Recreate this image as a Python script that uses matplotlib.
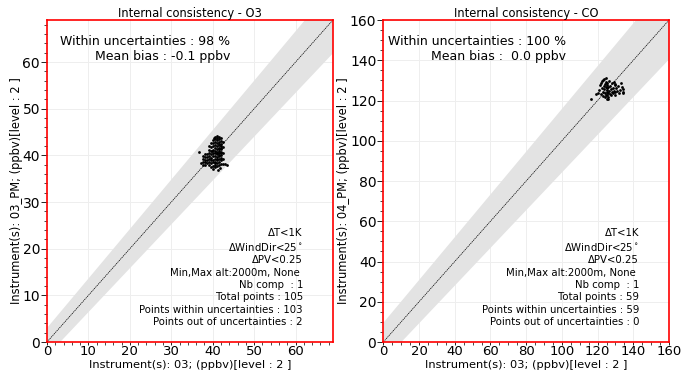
import numpy as np
import matplotlib.pyplot as plt
from matplotlib.ticker import MultipleLocator

# -----------------------------
# Data
# -----------------------------
o3_x = [36.8, 37.2,
        37.6, 37.6, 37.6, 37.6,
        38.1, 38.1, 38.1, 38.1, 38.1,
        38.6, 38.6, 38.6, 38.6,
        39.0, 39.0, 39.0, 39.0, 39.0, 39.0, 39.0,
        39.5, 39.5, 39.5, 39.5, 39.5, 39.5, 39.5, 39.5,
        40.0, 40.0, 40.0, 40.0, 40.0, 40.0, 40.0, 40.0, 40.0, 40.0,
        40.5, 40.5, 40.5, 40.5, 40.5, 40.5, 40.5, 40.5, 40.5, 40.5, 40.5, 40.5, 40.5,
        41.0, 41.0, 41.0, 41.0, 41.0, 41.0, 41.0, 41.0, 41.0, 41.0, 41.0, 41.0, 41.0, 41.0,
        41.5, 41.5, 41.5, 41.5, 41.5, 41.5, 41.5, 41.5, 41.5, 41.5, 41.5, 41.5, 41.5, 41.5,
        42.0, 42.0, 42.0, 42.0, 42.0, 42.0, 42.0, 42.0, 42.0, 42.0, 42.0, 42.0,
        42.5, 42.5, 42.5, 42.5, 42.5,
        43.0, 43.5,
        40.3, 41.2, 41.8, 39.8]
o3_y = [40.7, 38.3,
        38.0, 38.6, 39.2, 39.8,
        37.9, 38.5, 39.0, 39.6, 40.2,
        38.3, 39.0, 39.7, 40.3,
        38.0, 38.6, 39.2, 39.8, 40.4, 41.2, 42.0,
        37.5, 38.3, 38.9, 39.5, 40.2, 41.0, 41.8, 42.6,
        37.1, 37.8, 38.5, 39.1, 39.8, 40.5, 41.2, 41.9, 42.6, 43.3,
        37.4, 38.0, 38.6, 39.2, 39.8, 40.4, 41.0, 41.6, 42.2, 42.8, 43.4, 44.0, 38.3,
        37.8, 38.4, 39.0, 39.6, 40.2, 40.8, 41.4, 42.0, 42.6, 43.2, 43.8, 44.2, 39.3, 40.5,
        38.0, 38.6, 39.2, 39.8, 40.4, 41.0, 41.6, 42.2, 42.8, 43.4, 44.0, 40.1, 41.3, 42.5,
        38.2, 38.9, 39.5, 40.1, 40.7, 41.3, 41.9, 42.5, 43.1, 43.7, 40.4, 41.6,
        38.1, 39.3, 40.5, 41.7, 42.9,
        38.1, 38.0,
        43.7, 36.9, 37.2, 41.0]

co_x = [116.5, 119.0, 120.5, 121.0, 121.5, 122.0, 122.0, 122.5, 122.5, 123.0,
        123.0, 123.5, 123.5, 123.5, 124.0, 124.0, 124.0, 124.5, 124.5, 124.5,
        125.0, 125.0, 125.0, 125.0, 125.5, 125.5, 125.5, 126.0, 126.0, 126.0,
        126.5, 126.5, 127.0, 127.0, 127.5, 127.5, 128.0, 128.0, 128.5, 128.5,
        129.0, 129.0, 129.5, 129.5, 130.0, 130.0, 130.5, 131.0, 131.5, 132.0,
        132.5, 133.0, 133.5, 134.0, 134.0, 134.5, 123.0, 124.5, 126.0]
co_y = [121.0, 123.0, 123.5, 125.0, 127.5, 123.0, 128.5, 126.0, 129.5, 124.0,
        122.0, 127.0, 130.5, 125.5, 121.5, 123.5, 128.0, 126.5, 122.5, 129.0,
        124.0, 121.0, 126.0, 127.5, 122.5, 125.0, 128.5, 123.5, 126.5, 121.5,
        124.5, 129.5, 123.0, 127.0, 125.5, 122.5, 128.5, 124.0, 126.0, 123.5,
        129.0, 124.5, 127.5, 122.5, 124.0, 128.0, 126.0, 124.5, 127.0, 123.5,
        125.0, 128.5, 126.5, 124.0, 125.5, 123.5, 130.0, 131.0, 121.0]

o3_stats = ["\u0394T<1K", "\u0394WindDir<25$^\\circ$", "\u0394PV<0.25",
            "Min,Max alt:2000m, None ", "Nb comp  : 1", "Total points : 105",
            "Points within uncertainties : 103", "Points out of uncertainties : 2"]
co_stats = ["\u0394T<1K", "\u0394WindDir<25$^\\circ$", "\u0394PV<0.25",
            "Min,Max alt:2000m, None ", "Nb comp  : 1", "Total points : 59",
            "Points within uncertainties : 59", "Points out of uncertainties : 0"]

panels = [
    {"title": "Internal consistency - O3", "x": o3_x, "y": o3_y,
     "xlabel": "Instrument(s): 03; (ppbv)[level : 2 ]",
     "ylabel": "Instrument(s): 03_PM; (ppbv)[level : 2 ]",
     "head": "Within uncertainties : 98 %\nMean bias : -0.1 ppbv",
     "stats": o3_stats, "lim": 69, "major": 10, "minor": 2,
     "unc_abs": 3.0, "unc_rel": 0.06, "ylab_x": -0.085,
     "rect": [0.0676, 0.0806, 0.4114, 0.8656]},
    {"title": "Internal consistency - CO", "x": co_x, "y": co_y,
     "xlabel": "Instrument(s): 03; (ppbv)[level : 2 ]",
     "ylabel": "Instrument(s): 04_PM; (ppbv)[level : 2 ]",
     "head": "Within uncertainties : 100 %\nMean bias :  0.0 ppbv",
     "stats": co_stats, "lim": 160, "major": 20, "minor": 5,
     "unc_abs": 9.5, "unc_rel": 0.063, "ylab_x": -0.118,
     "rect": [0.5515, 0.0806, 0.4111, 0.8656]},
]

fig = plt.figure(figsize=(6.95, 3.72), dpi=100)

for p in panels:
    ax = fig.add_axes(p["rect"])
    lim = p["lim"]
    xx = np.array([0, lim * 1.2])
    ax.fill_between(xx, xx - (p["unc_abs"] + p["unc_rel"] * xx),
                    xx + (p["unc_abs"] + p["unc_rel"] * xx),
                    color="#e3e3e3", lw=0, zorder=1)
    ax.plot(xx, xx, color="black", ls=(0, (2, 1)), lw=0.5, zorder=2)
    ax.scatter(p["x"], p["y"], s=4, color="black", lw=0, zorder=3)

    ax.set_xlim(0, lim)
    ax.set_ylim(0, lim)
    ax.xaxis.set_major_locator(MultipleLocator(p["major"]))
    ax.yaxis.set_major_locator(MultipleLocator(p["major"]))
    ax.xaxis.set_minor_locator(MultipleLocator(p["minor"]))
    ax.yaxis.set_minor_locator(MultipleLocator(p["minor"]))
    ax.tick_params(which="major", labelsize=10, length=4, width=0.6, pad=1)
    ax.tick_params(axis="x", which="major", labelsize=9.5, length=2, pad=0)
    ax.tick_params(which="minor", length=2, width=0.5)
    ax.grid(True, which="major", color="#eeeeee", lw=0.7, zorder=0)
    ax.set_axisbelow(True)
    for s in ax.spines.values():
        s.set_color("red")
        s.set_linewidth(1.2)

    ax.set_title(p["title"], fontsize=8.3, pad=2)
    ax.set_xlabel(p["xlabel"], fontsize=8.2)
    ax.xaxis.set_label_coords(0.5, -0.056)
    ax.set_ylabel(p["ylabel"], fontsize=8.3)
    ax.yaxis.set_label_coords(p["ylab_x"], 0.47)

    ax.text(0.64, 0.955, p["head"], transform=ax.transAxes, ha="right",
            va="top", fontsize=9.0, linespacing=1.2)
    ax.text(0.895, 0.355, "\n".join(p["stats"]), transform=ax.transAxes,
            ha="right", va="top", fontsize=7.3, linespacing=1.3)

fig.savefig("out.png", dpi=100)
